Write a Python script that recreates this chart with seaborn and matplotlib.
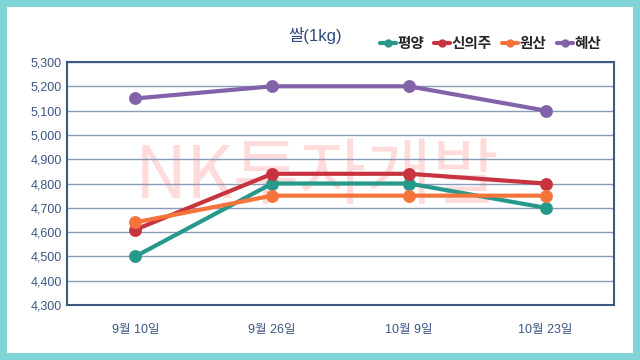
import matplotlib
matplotlib.use("Agg")
import matplotlib.pyplot as plt
import seaborn as sns
import pandas as pd
from matplotlib.patches import Rectangle
from matplotlib.lines import Line2D

dates = ["9월 10일", "9월 26일", "10월 9일", "10월 23일"]
cities = ["평양", "신의주", "원산", "혜산"]
pyongyang = [4500, 4800, 4800, 4700]
sinuiju = [4610, 4840, 4840, 4800]
wonsan = [4640, 4750, 4750, 4750]
hyesan = [5150, 5200, 5200, 5100]
colors = ["#27998b", "#c7343f", "#f4743b", "#8262a8"]

sns.set_theme(style="white")
plt.rcParams["font.family"] = ["Liberation Sans", "Noto Sans CJK KR", "DejaVu Sans"]

rows = []
for city, vals in zip(cities, [pyongyang, sinuiju, wonsan, hyesan]):
    for d, v in zip(dates, vals):
        rows.append({"date": d, "price": v, "city": city})
df = pd.DataFrame(rows)

fig = plt.figure(figsize=(6.4, 3.6), dpi=100, facecolor="#80d4d7")
fig.patches.append(Rectangle((7 / 640, 7 / 360), 626 / 640, 346 / 360,
                             transform=fig.transFigure, facecolor="white",
                             edgecolor="none", zorder=-1))
ax = fig.add_axes([67 / 640, 55 / 360, 547 / 640, 243 / 360])
ax.set_zorder(2)
ax.set_facecolor("none")

sns.pointplot(data=df, x="date", y="price", hue="city", order=dates,
              hue_order=cities, palette=colors, markers="o", linestyles="-",
              markersize=7, linewidth=3, ax=ax, legend=False, zorder=3)

ax.set_ylim(4300, 5300)
ax.set_xlim(-0.5, 3.5)
ax.set_yticks(range(4300, 5301, 100))
ax.set_yticklabels([f"{v:,}" for v in range(4300, 5301, 100)])
ax.yaxis.grid(True, color="#8a9bb8", linewidth=1)
ax.set_axisbelow(True)
for s in ax.spines.values():
    s.set_color("#3d5a80")
    s.set_linewidth(1.5)
ax.tick_params(axis="both", length=0, labelsize=9, labelcolor="#3c5582")
ax.tick_params(axis="x", pad=14)
ax.set_xlabel("")
ax.set_ylabel("")

# watermark
fig.text(0.495, 183 / 360, "NK투자개발", fontsize=52,
         color="#ff9999", alpha=0.35, ha="center", va="center", zorder=1,
         family=["Noto Sans CJK KR"], weight="light")

fig.text(315 / 640, 1 - 36 / 360, "쌀(1kg)", fontsize=12, color="#2f4b7c",
         ha="center", va="center")

handles = [Line2D([0], [0], color=c, marker="o", markersize=5, linewidth=3)
           for c in colors]
fig.legend(handles, cities, loc="center right", ncol=4,
           bbox_to_anchor=(614 / 640, 1 - 44 / 360), frameon=False,
           handlelength=1.1, handletextpad=0.1, columnspacing=0.7,
           prop={"weight": "bold", "size": 10.5})

fig.savefig("out.png", dpi=100, facecolor=fig.get_facecolor())
